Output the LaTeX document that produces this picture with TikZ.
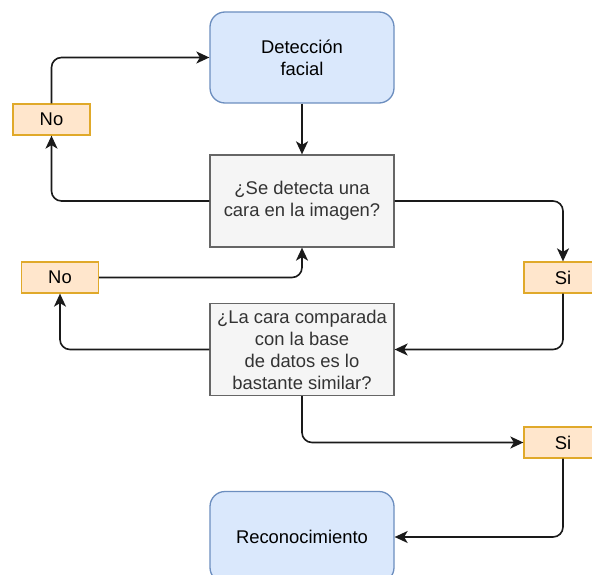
\documentclass[tikz,border=0pt]{standalone}
\usepackage{fontspec}
\setmainfont{Liberation Sans}
\usetikzlibrary{arrows.meta}
\definecolor{procfill}{HTML}{DAE8FC}
\definecolor{procline}{HTML}{6C8EBF}
\definecolor{askfill}{HTML}{F5F5F5}
\definecolor{askline}{HTML}{666666}
\definecolor{asktext}{HTML}{333333}
\definecolor{tagfill}{HTML}{FFE6CC}
\definecolor{tagline}{HTML}{E0A92A}
\definecolor{wire}{HTML}{1A1A1A}
\begin{document}
\begin{tikzpicture}[x=1pt,y=-1pt,
  font=\fontsize{18.4}{22}\selectfont,
  process/.style={rectangle, rounded corners=15pt, fill=procfill, draw=procline,
    line width=1.3pt, minimum width=184pt, minimum height=91pt, inner sep=0pt,
    align=center, text=black},
  ask/.style={rectangle, fill=askfill, draw=askline, line width=1.3pt,
    minimum width=184pt, minimum height=92pt, inner sep=0pt, align=center, text=asktext},
  tag/.style={rectangle, fill=tagfill, draw=tagline, line width=1.3pt,
    minimum width=77pt, minimum height=31pt, inner sep=0pt, text=black},
  conn/.style={draw=wire, line width=1.6pt, rounded corners=10pt,
    -{Stealth[length=13pt,width=12pt,inset=3.5pt]}}]
\clip (0,0) rectangle (592,575);
\fill[white] (0,0) rectangle (592,575);

% blocks
\node[process] (det) at (302,57.5) {Detección\\facial};
\node[ask] (q1) at (302,201) {¿Se detecta una\\cara en la imagen?};
\node[ask] (q2) at (302,349.5) {¿La cara comparada\\con la base\\de datos es lo\\bastante similar?};
\node[process] (rec) at (302,537) {Reconocimiento};

% answer tags
\node[tag] (no1) at (51.5,119.5) {No};
\node[tag] (no2) at (60,277.5) {No};
\node[tag, minimum width=78pt] (si1) at (563,277.5) {Si};
\node[tag, minimum width=78pt] (si2) at (563,442.5) {Si};

% connectors
\draw[conn] (det.south) -- (q1.north);
\draw[conn] (q1.west) -| (no1.south);
\draw[conn] (no1.north) |- (det.west);
\draw[conn] (q1.east) -| (si1.north);
\draw[conn] (si1.south) |- (q2.east);
\draw[conn] (q2.west) -| (no2.south);
\draw[conn] (no2.east) -| (q1.south);
\draw[conn] (q2.south) |- (si2.west);
\draw[conn] (si2.south) |- (rec.east);
\end{tikzpicture}
\end{document}
